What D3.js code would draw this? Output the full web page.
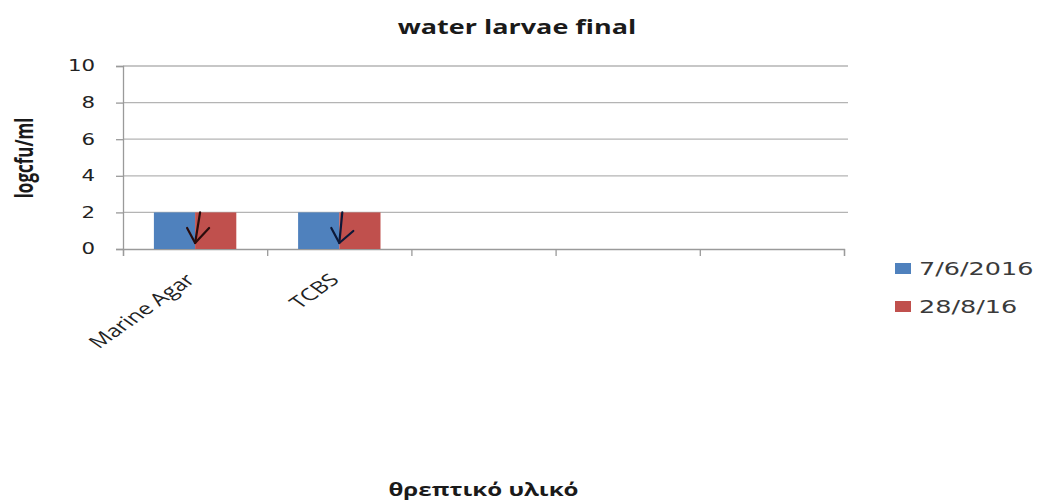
<!DOCTYPE html>
<html>
<head>
<meta charset="utf-8">
<script src="https://cdn.jsdelivr.net/npm/d3@7"></script>
<style>
  body { margin: 0; background: #fff; }
  .grid line { stroke: #b4b4b4; stroke-width: 1.3; }
  .axis path, .axis line { stroke: #9a9a9a; stroke-width: 1.3; }
  .y.axis text { font-family: "DejaVu Sans", sans-serif; font-size: 15px; fill: #222; }
  .x.axis text { font-family: "Open Sans", sans-serif; font-size: 17px; fill: #222; }
</style>
</head>
<body>
<script>
// chart data
var categories = ['Marine Agar', 'TCBS', '', ' ', '  '];
var seriesNames = ['7/6/2016', '28/8/16'];
var seriesColors = ['#4f81bd', '#c0504d'];
var values76 = [2, 2, null, null, null];
var values288 = [2, 2, null, null, null];
var yTicks = [0, 2, 4, 6, 8, 10];

// the original picture is stretched sideways; text is stretched the same way
var stretch = 1.42;

var svgWidth = 1039,
    svgHeight = 504,
    margin = { top: 66, left: 123 },
    chartWidth = 844 - margin.left,
    chartHeight = 249 - margin.top;

var svg = d3.select('body').append('svg')
  .attr('width', svgWidth)
  .attr('height', svgHeight);

var g = svg.append('g')
  .attr('transform', 'translate(' + margin.left + ',' + margin.top + ')');

var x = d3.scaleBand().domain(categories).range([0, chartWidth]);
var xs = d3.scaleBand().domain(seriesNames).range([0, x.bandwidth()]).paddingOuter(0.75);
var y = d3.scaleLinear().domain([0, 10]).range([chartHeight, 0]);

// gridlines
g.append('g')
  .attr('class', 'grid')
  .selectAll('line')
  .data(yTicks.slice(1))
  .enter().append('line')
    .attr('x1', 0).attr('x2', chartWidth + 4)
    .attr('y1', function (d) { return y(d); })
    .attr('y2', function (d) { return y(d); });

// axes
var yAxis = d3.axisLeft(y).tickValues(yTicks).tickSize(7).tickPadding(0);
var yg = g.append('g').attr('class', 'y axis').call(yAxis);
yg.selectAll('text')
  .attr('x', 0)
  .attr('transform', 'translate(-28,0) scale(' + stretch + ',1)');

var xAxis = d3.axisBottom(d3.scaleLinear().domain([0, categories.length]).range([0, chartWidth]))
  .tickValues(d3.range(categories.length + 1)).tickSize(7).tickFormat('');
g.append('g').attr('class', 'x axis')
  .attr('transform', 'translate(0,' + chartHeight + ')')
  .call(xAxis);

// rotated category labels
g.append('g').attr('class', 'x axis')
  .selectAll('text')
  .data(categories)
  .enter().append('text')
    .attr('transform', function (d) {
      return 'translate(' + (x(d) + x.bandwidth() / 2 + 1) + ',' + (chartHeight + 32) + ') scale(' + stretch + ',1) rotate(-45)';
    })
    .style('text-anchor', 'end')
    .text(function (d) { return d.trim(); });

// bars
var rows = categories.map(function (c, i) {
  return { cat: c, vals: [values76[i], values288[i]] };
});

var groups = g.selectAll('.grp')
  .data(rows)
  .enter().append('g')
    .attr('class', 'grp')
    .attr('transform', function (d) { return 'translate(' + x(d.cat) + ',0)'; });

groups.selectAll('rect')
  .data(function (d) {
    return d.vals.map(function (v, j) { return { name: seriesNames[j], v: v, color: seriesColors[j] }; })
      .filter(function (e) { return e.v !== null; });
  })
  .enter().append('rect')
    .attr('x', function (d) { return xs(d.name); })
    .attr('width', xs.bandwidth())
    .attr('y', function (d) { return y(d.v); })
    .attr('height', function (d) { return chartHeight - y(d.v); })
    .attr('fill', function (d) { return d.color; });

// hand drawn down arrows (below detection limit)
var arrowColors = ['#2a0c0c', '#0d1838'];
rows.forEach(function (r, i) {
  if (r.vals[0] === null) return;
  var cx = x(r.cat) + x.bandwidth() / 2;
  var top = y(r.vals[0]), tip = y(0) - 6;
  var a = g.append('g').attr('stroke', arrowColors[i]).attr('stroke-width', 2.2).attr('fill', 'none')
    .attr('stroke-linecap', 'round').attr('stroke-linejoin', 'round');
  a.append('line').attr('x1', cx + 5 - 2 * i).attr('y1', top).attr('x2', cx).attr('y2', tip);
  a.append('path').attr('d', 'M' + (cx - 8) + ',' + (tip - 15) + 'L' + cx + ',' + tip + 'L' + (cx + 14) + ',' + (tip - 15 + 3 * i));
});

// legend
var legend = svg.append('g').attr('transform', 'translate(895,0)');
seriesNames.forEach(function (s, i) {
  var ly = 268.5 + i * 38;
  legend.append('rect').attr('x', 0).attr('y', ly - 5.5).attr('width', 16).attr('height', 11)
    .attr('fill', seriesColors[i]);
  legend.append('text')
    .attr('transform', 'translate(24,' + ly + ') scale(1.5,1)')
    .attr('dy', '0.36em')
    .style('font-family', '"DejaVu Sans", sans-serif').style('font-size', '17px').style('fill', '#3a3a3a')
    .text(s);
});

// titles
svg.append('text')
  .attr('transform', 'translate(517,34) scale(' + stretch + ',1)')
  .style('text-anchor', 'middle')
  .style('font-family', '"Open Sans", sans-serif').style('font-weight', 'bold').style('font-size', '19px')
  .style('fill', '#1a1a1a')
  .text('water larvae final');

svg.append('text')
  .attr('transform', 'translate(33,158) scale(' + stretch + ',1) rotate(-90)')
  .style('text-anchor', 'middle')
  .style('font-family', '"Open Sans", sans-serif').style('font-weight', 'bold').style('font-size', '17px')
  .style('fill', '#1a1a1a')
  .text('logcfu/ml');

svg.append('text')
  .attr('transform', 'translate(' + (margin.left + chartWidth / 2) + ',496) scale(' + stretch + ',1)')
  .style('text-anchor', 'middle')
  .style('font-family', '"Open Sans", sans-serif').style('font-weight', 'bold').style('font-size', '17px')
  .style('fill', '#1a1a1a')
  .text('θρεπτικό υλικό');
</script>
</body>
</html>
